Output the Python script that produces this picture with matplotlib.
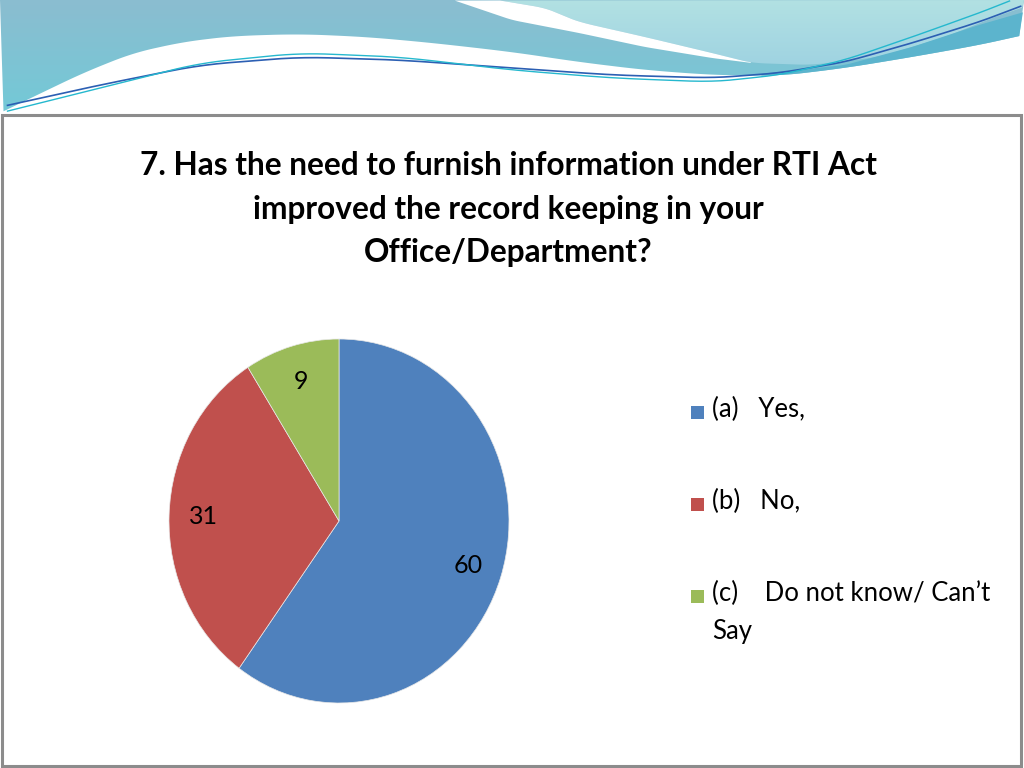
import numpy as np
import matplotlib.pyplot as plt
from matplotlib.patches import Rectangle, Polygon
from matplotlib.colors import LinearSegmentedColormap

plt.rcParams['font.family'] = ['Lato', 'DejaVu Sans']

# data
categories = ["(a)   Yes,", "(b)   No,", "(c)    Do not know/ Can\u2019t\nSay"]
values = [60, 31, 9]
colors = ["#4F81BD", "#C0504D", "#9BBB59"]
title = "7. Has the need to furnish information under RTI Act\nimproved the record keeping in your\nOffice/Department?"

fig = plt.figure(figsize=(10.24, 7.68), dpi=100)

# background / header decoration, in pixel coordinates
bg = fig.add_axes([0, 0, 1, 1])
bg.set_xlim(0, 1024)
bg.set_ylim(768, 0)
bg.axis("off")


def curve(xs, ys, n=300):
    # smooth-ish polyline through the control points
    t = np.linspace(0, 1, len(xs))
    tt = np.linspace(0, 1, n)
    cx = np.interp(tt, t, xs)
    cy = np.interp(tt, t, ys)
    k = np.ones(15) / 15
    cy2 = np.convolve(np.pad(cy, 7, mode="edge"), k, mode="valid")
    cx2 = np.convolve(np.pad(cx, 7, mode="edge"), k, mode="valid")
    return cx2, cy2


def grad_fill(xs, ys, c1, c2, vertical=True):
    poly = Polygon(np.c_[xs, ys], closed=True, fc="none", ec="none")
    bg.add_patch(poly)
    cmap = LinearSegmentedColormap.from_list("g", [c1, c2])
    g = np.linspace(0, 1, 256)
    img = g[:, None] if vertical else g[None, :]
    im = bg.imshow(img, cmap=cmap, extent=(0, 1024, 130, 0) if vertical else (0, 1024, 130, 0),
                   aspect="auto", zorder=1)
    im.set_clip_path(poly)


# teal wave (whole top band)
ux, uy = curve([0, 33, 83, 133, 183, 233, 300, 367, 433, 512, 579, 645, 712, 779, 845, 912, 979, 1024],
               [113, 97, 73, 53, 42, 36, 34, 37, 43, 52, 62, 70, 75, 76, 68, 57, 45, 35])
grad_fill(np.r_[ux, 1024, 0], np.r_[uy, 0, 0], "#8BBDD0", "#6FCBD8")

# darker band on the right
dx, dy = curve([760, 845, 912, 979, 1024], [74, 65, 47, 25, 12])
mask = ux >= 760
bg.fill(np.r_[dx, ux[mask][::-1]], np.r_[dy, uy[mask][::-1]], color="#5CB4CD", lw=0, zorder=2)

# light region on the upper right with white swoosh
lx, ly = curve([497, 545, 579, 645, 712, 752, 812, 879, 945, 995, 1024],
               [0, 8, 22, 37, 53, 63, 65, 57, 37, 17, 7])
grad_fill(np.r_[lx, 1024, 1024], np.r_[ly, 0, 0], "#B2E1E3", "#8CC5E0")
sx, sy = curve([453, 512, 579, 645, 712, 752], [0, 20, 33, 47, 58, 63])
tmask = lx <= 752
bg.fill(np.r_[sx, lx[tmask][::-1]], np.r_[sy, ly[tmask][::-1]], color="white", lw=0, zorder=2)

# thin lines
bx, by = curve([0, 100, 200, 300, 400, 512, 612, 712, 779, 845, 912, 979, 1024],
               [107, 85, 65, 57, 60, 68, 75, 78, 73, 62, 43, 22, 5])
cx, cy = curve([0, 100, 200, 300, 400, 512, 612, 712, 779, 845, 912, 979, 1012],
               [113, 88, 63, 53, 57, 70, 78, 82, 75, 60, 37, 13, 0])
bg.plot(bx, by, color="#2C5FB3", lw=1.2, zorder=3)
bg.plot(cx, cy, color="#25B8CE", lw=1.0, zorder=3)

# grey frame
bg.add_patch(Rectangle((2, 115), 1019, 651, fill=False, ec="#8C8C8C", lw=2.2, zorder=3))

# title
bg.text(508, 209, title, ha="center", va="center", fontsize=22.8, fontweight="bold",
        color="black", linespacing=1.6)

# pie
ax = fig.add_axes([(339 - 170) / 1024, (768 - 703) / 768, 340 / 1024, 364 / 768])
ax.pie(values, colors=colors, startangle=90, counterclock=False,
       autopct=lambda p: f"{p:.0f}", pctdistance=0.8,
       wedgeprops=dict(linewidth=0.5, edgecolor="#E8E8E8"),
       textprops=dict(fontsize=18, color="black"))
ax.set_aspect("auto")
ax.set_xlim(-1, 1)
ax.set_ylim(-1, 1)

# legend
for i, (lab, c) in enumerate(zip(categories, colors)):
    yc = 412 + i * 92
    bg.add_patch(Rectangle((691, yc - 6.5), 13, 13, fc=c, ec="none"))
    bg.text(712, yc - 15, lab, ha="left", va="top", fontsize=18.5, linespacing=1.65)

fig.savefig("out.png", dpi=100)
